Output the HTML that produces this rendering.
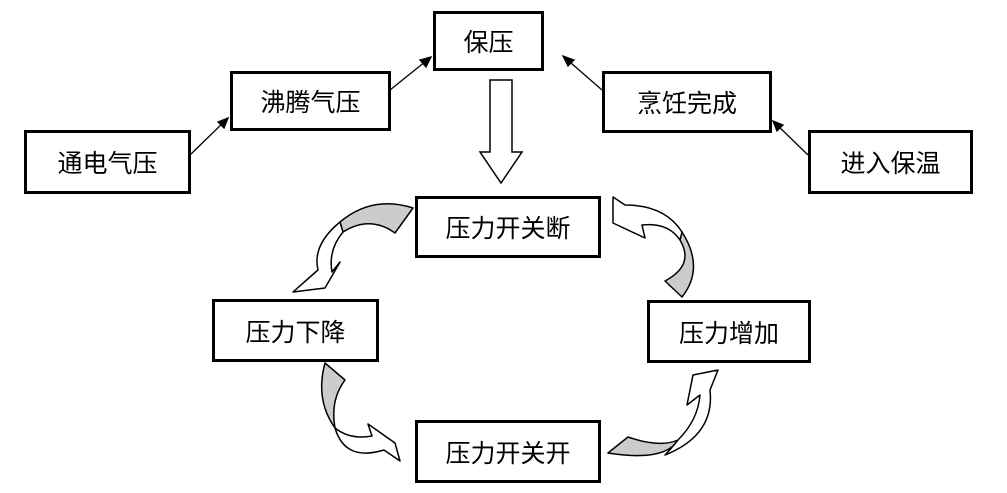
<!DOCTYPE html>
<html><head><meta charset="utf-8"><style>
body{margin:0;background:#fff;}
.b{position:absolute;border:3px solid #000;box-sizing:border-box;background:#fff;display:flex;align-items:center;justify-content:center;font-family:"Liberation Sans","Noto Sans CJK SC",sans-serif;font-size:25px;color:#000;}
</style></head><body>
<div style="position:relative;width:1007px;height:493px;overflow:hidden">
<svg width="1007" height="493" style="position:absolute;left:0;top:0">
<g stroke="#000" stroke-width="1.3" fill="none">
<line x1="190" y1="155" x2="228" y2="118"/>
<polygon points="228,118 218,122 224,128" fill="#000"/>
<line x1="390" y1="90" x2="431" y2="57"/>
<polygon points="431,57 420,60 426,67" fill="#000"/>
<line x1="602" y1="90" x2="563" y2="56"/>
<polygon points="563,56 568,66 574,60" fill="#000"/>
<line x1="808" y1="155" x2="773" y2="121"/>
<polygon points="773,121 777,131 783,125" fill="#000"/>
</g>
<polygon points="490,80 512,80 512,152 522,152 501,183 480,152 490,152" fill="#fff" stroke="#000" stroke-width="1.5"/>
<g stroke="#000" stroke-width="1.5" stroke-linejoin="round">
<!-- top-left -->
<path d="M413,208 Q372,195 340,222 L343,232 Q370,215 395,233 Z" fill="#ccc"/>
<path d="M340,222 Q312,245 318,270 L310,277 L293,292 L325,288 L340,262 L332,272 Q328,250 343,232 Z" fill="#fff"/>
<!-- top-right -->
<path d="M680,240 Q695,265 665,281 L682,297 Q705,268 682,232 Z" fill="#ccc"/>
<path d="M613,197 L613,223 L645,238 L642,225 Q668,222 680,240 L682,232 Q665,205 625,205 Z" fill="#fff"/>
<!-- bottom-left -->
<path d="M325,363 Q315,400 335,428 Q330,400 345,380 Z" fill="#ccc"/>
<path d="M335,428 Q350,440 372,436 L368,424 L395,443 L400,461 L384,450 Q345,462 335,428 Z" fill="#fff"/>
<!-- bottom-right -->
<path d="M608,453 L628,437 Q660,448 678,440 Q665,462 608,453 Z" fill="#ccc"/>
<path d="M678,440 Q698,420 700,395 L687,405 L693,375 L718,370 L710,390 Q715,435 665,455 Q670,450 678,440 Z" fill="#fff"/>
</g>
</svg>
<div class="b" style="left:433px;top:11px;width:111px;height:60px">保压</div>
<div class="b" style="left:230px;top:71px;width:161px;height:60px">沸腾气压</div>
<div class="b" style="left:602px;top:71px;width:170px;height:62px">烹饪完成</div>
<div class="b" style="left:24px;top:130px;width:167px;height:64px">通电气压</div>
<div class="b" style="left:808px;top:130px;width:165px;height:64px">进入保温</div>
<div class="b" style="left:415px;top:196px;width:186px;height:62px">压力开关断</div>
<div class="b" style="left:212px;top:299px;width:167px;height:63px">压力下降</div>
<div class="b" style="left:647px;top:300px;width:164px;height:63px">压力增加</div>
<div class="b" style="left:415px;top:420px;width:186px;height:63px">压力开关开</div>
</div>
</body></html>
